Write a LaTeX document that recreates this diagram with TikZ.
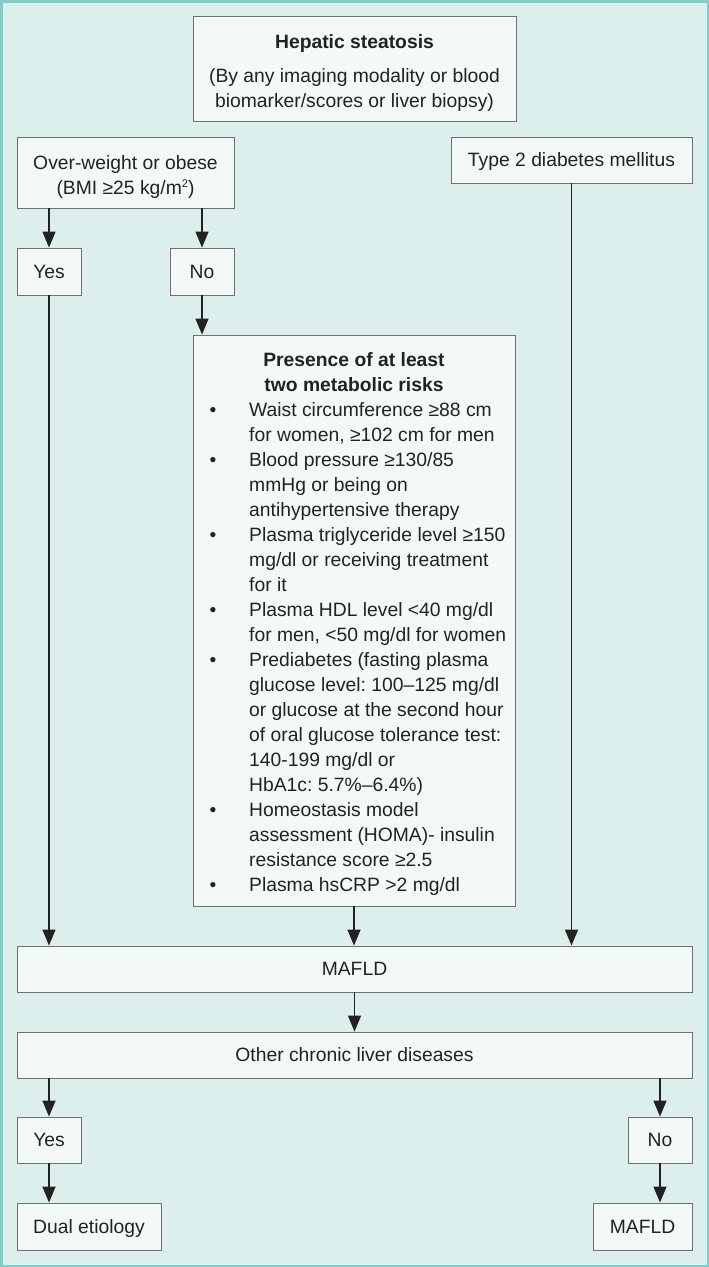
\documentclass[tikz,border=0pt]{standalone}
\usepackage{fontspec}
\setmainfont{Liberation Sans}
\usetikzlibrary{arrows.meta}
\definecolor{bgc}{HTML}{DDEFEC}
\definecolor{framec}{HTML}{7FCFC6}
\definecolor{boxc}{HTML}{F3F9F8}
\definecolor{linec}{HTML}{707070}
\definecolor{txtc}{HTML}{222222}
\frenchspacing
\begin{document}
\frenchspacing
\begin{tikzpicture}[x=1pt,y=-1pt,
  box/.style={draw=linec, fill=boxc, line width=0.9pt, inner sep=0pt, align=center, text=txtc, font=\fontsize{19.3}{25}\selectfont\frenchspacing, text height=13pt, text depth=0pt},
  txt/.style={inner sep=0pt, text=txtc, font=\fontsize{19.3}{25}\selectfont\frenchspacing},
  arr/.style={draw=txtc, line width=1.4pt, -{Triangle[length=16pt,width=13pt]}}
]
\fill[bgc] (0,0) rectangle (709,1267);
\draw[framec, line width=2.5pt] (1.25,1.25) rectangle (707.75,1265.75);

\node[box, minimum width=323pt, minimum height=105pt] (top) at (354.5,68.5) {};
\node[txt, anchor=north] (toptext) at (354.5,30.5) {\begin{tabular}{@{}c@{}}\bfseries Hepatic steatosis\\[9pt](By any imaging modality or blood\\biomarker/scores or liver biopsy)\end{tabular}};
\node[box, minimum width=217pt, minimum height=71pt] (ow) at (125.5,172.5) {};
\node[txt, anchor=north] (owtext) at (125.5,151.5) {\begin{tabular}{@{}c@{}}Over-weight or obese\\(BMI ≥25 kg/m\raisebox{6.5pt}{\fontsize{11}{11}\selectfont 2})\end{tabular}};
\node[box, minimum width=241pt, minimum height=46pt] (t2) at (571.5,160) {Type 2 diabetes mellitus};
\node[box, minimum width=64pt, minimum height=47pt] (yes1) at (49,271.5) {Yes};
\node[box, minimum width=64pt, minimum height=47pt] (no1) at (202,271.5) {No};
\node[box, minimum width=322pt, minimum height=571pt] (met) at (354,620.5) {};
\node[txt, anchor=north] (mtitle) at (354,348.5) {\begin{tabular}{@{}c@{}}\bfseries Presence of at least\\\bfseries two metabolic risks\end{tabular}};
\node[txt, anchor=north west] (mlist) at (209.5,398.5) {\begin{tabular}{@{}p{39.5pt}@{}l@{}}
• & Waist circumference ≥88 cm\\
  & for women, ≥102 cm for men\\
• & Blood pressure ≥130/85\\
  & mmHg or being on\\
  & antihypertensive therapy\\
• & Plasma triglyceride level ≥150\\
  & mg/dl or receiving treatment\\
  & for it\\
• & Plasma HDL level <40 mg/dl\\
  & for men, <50 mg/dl for women\\
• & Prediabetes (fasting plasma\\
  & glucose level: 100–125 mg/dl\\
  & or glucose at the second hour\\
  & of oral glucose tolerance test:\\
  & 140-199 mg/dl or\\
  & HbA1c: 5.7\%–6.4\%)\\
• & Homeostasis model\\
  & assessment (HOMA)- insulin\\
  & resistance score ≥2.5\\
• & Plasma hsCRP >2 mg/dl
\end{tabular}};
\node[box, minimum width=675pt, minimum height=46pt] (mafld) at (354.5,969) {MAFLD};
\node[box, minimum width=675pt, minimum height=46pt] (other) at (354.5,1055) {Other chronic liver diseases};
\node[box, minimum width=64pt, minimum height=46pt] (yes2) at (49,1140) {Yes};
\node[box, minimum width=64pt, minimum height=46pt] (no2) at (660,1140) {No};
\node[box, minimum width=144pt, minimum height=47pt] (dual) at (89,1226.5) {Dual etiology};
\node[box, minimum width=99pt, minimum height=47pt] (mafld2) at (642.5,1226.5) {MAFLD};

\draw[arr] (yes1 |- ow.south) -- (yes1.north);
\draw[arr] (no1 |- ow.south) -- (no1.north);
\draw[arr] (no1.south) -- (no1 |- met.north);
\draw[arr] (yes1.south) -- (yes1 |- mafld.north);
\draw[arr] (met.south) -- (met |- mafld.north);
\draw[arr] (t2.south) -- (t2 |- mafld.north);
\draw[arr] (mafld.south) -- (other.north);
\draw[arr] (yes2 |- other.south) -- (yes2.north);
\draw[arr] (no2 |- other.south) -- (no2.north);
\draw[arr] (yes2.south) -- (yes2 |- dual.north);
\draw[arr] (no2.south) -- (no2 |- mafld2.north);
\end{tikzpicture}
\end{document}
